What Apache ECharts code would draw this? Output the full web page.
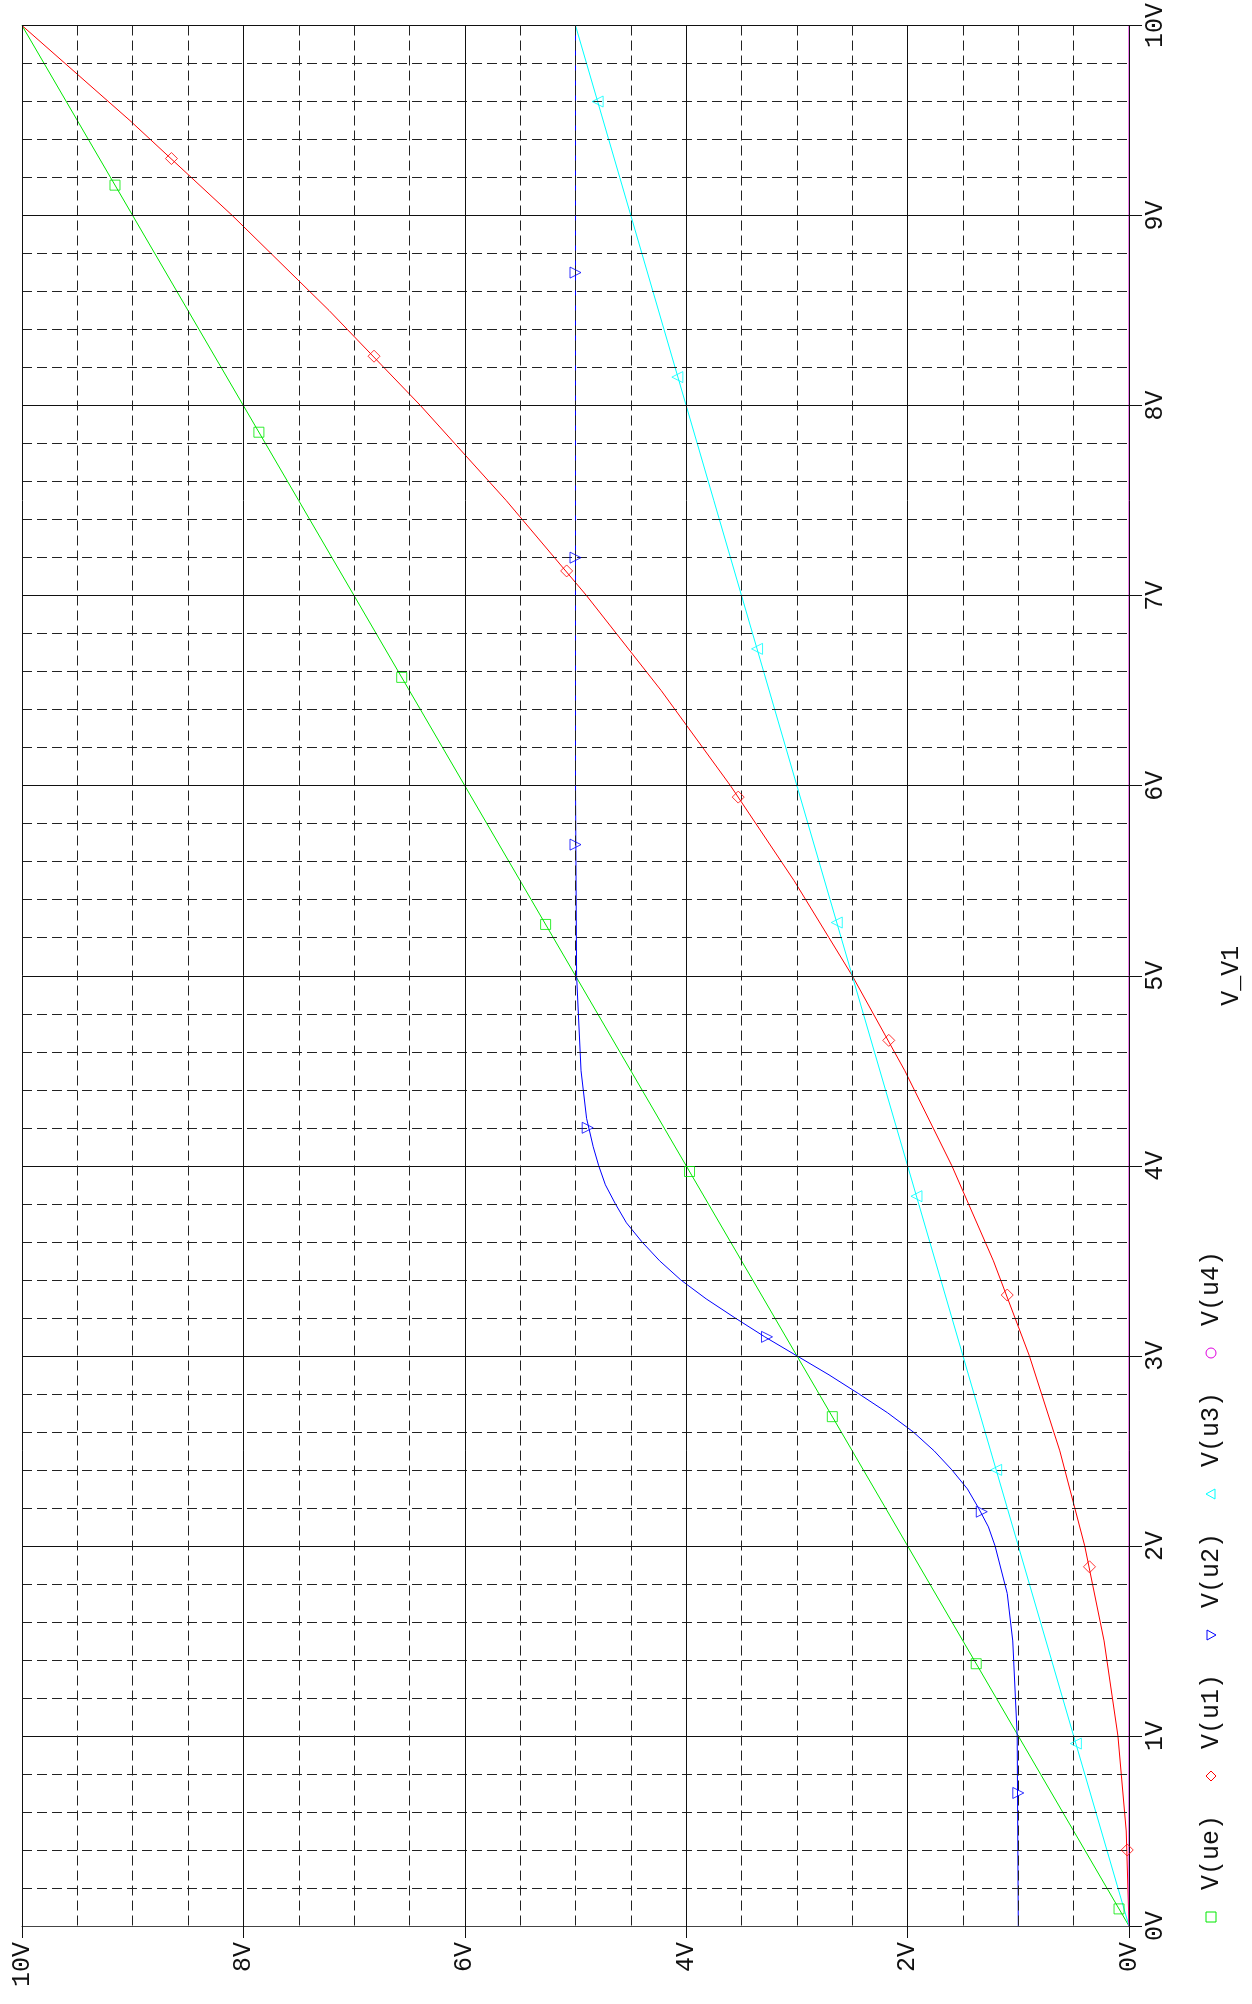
<!DOCTYPE html>
<html>
<head>
<meta charset="UTF-8" />
<title>V_V1 sweep</title>
<style>
  html, body { margin: 0; padding: 0; background: #fff; }
  #chart { width: 1252px; height: 2004px; }
</style>
</head>
<body>
<div id="chart"></div>
<script src="https://cdn.jsdelivr.net/npm/echarts@6/dist/echarts.min.js"></script>
<script>
// sweep voltage V_V1 (vertical axis) and the traces
const sweepLinear = [0, 10];
const ueValues = [0, 10];
const u3Values = [0, 5];
const u4Values = [0, 0];

const sweepU1 = [0, 0.5, 1, 1.5, 2, 2.5, 3, 3.5, 4, 4.5, 5, 5.5, 6, 6.5, 7, 7.5, 8, 8.5, 9, 9.5, 10];
const u1Values = [0, 0.025, 0.1, 0.225, 0.4, 0.625, 0.9, 1.225, 1.6, 2.025, 2.5, 3.025, 3.6, 4.225, 4.9, 5.625, 6.4, 7.225, 8.1, 9.025, 10];

const sweepU2 = [0, 1, 1.5, 1.75, 2, 2.1, 2.2, 2.3, 2.4, 2.5, 2.6, 2.7, 2.8, 2.9, 3, 3.1, 3.2, 3.3, 3.4, 3.5, 3.6, 3.7, 3.8, 3.9, 4, 4.1, 4.25, 4.5, 5, 6, 10];
const u2Values = [1.0, 1.01, 1.05, 1.1, 1.21, 1.27, 1.36, 1.46, 1.6, 1.76, 1.95, 2.18, 2.44, 2.71, 3.0, 3.29, 3.56, 3.82, 4.05, 4.24, 4.4, 4.54, 4.64, 4.73, 4.79, 4.84, 4.9, 4.95, 4.99, 5.0, 5.0];

// marker positions along each trace
const ueMarkSweep = [0.09, 1.38, 2.68, 3.97, 5.27, 6.57, 7.86, 9.16];
const ueMarkVal = [0.09, 1.38, 2.68, 3.97, 5.27, 6.57, 7.86, 9.16];
const u1MarkSweep = [0.4, 1.89, 3.32, 4.66, 5.94, 7.13, 8.26, 9.3];
const u1MarkVal = [0.016, 0.357, 1.1, 2.17, 3.53, 5.08, 6.82, 8.65];
const u2MarkSweep = [0.7, 2.18, 3.1, 4.2, 5.69, 7.2, 8.7];
const u2MarkVal = [1.0, 1.33, 3.27, 4.89, 5.0, 5.0, 5.0];
const u3MarkSweep = [0.96, 2.4, 3.84, 5.28, 6.72, 8.15, 9.6];
const u3MarkVal = [0.48, 1.2, 1.92, 2.64, 3.36, 4.08, 4.8];

const legendNames = ['V(ue)', 'V(u1)', 'V(u2)', 'V(u3)', 'V(u4)'];
const colors = ['#00e800', '#ff0000', '#0000ff', '#00ffff', '#e000e0'];

const FONT = '"Liberation Mono", "DejaVu Sans Mono", monospace';

function pairs(sweep, vals) {
  return sweep.map((s, i) => [vals[i], s]);
}

function lineSeries(name, data, color) {
  return {
    name, type: 'line', data, z: 2,
    symbol: 'none',
    lineStyle: { color, width: 1 },
    clip: false, silent: true
  };
}

function markSeries(data, color, symbol, rot, size) {
  return {
    type: 'scatter', data, z: 4,
    symbol, symbolRotate: rot, symbolSize: size,
    itemStyle: { color: 'rgba(0,0,0,0)', borderColor: color, borderWidth: 1 },
    silent: true
  };
}

// legend drawn as a rotated group, like the rest of the page
function legendChildren() {
  const out = [];
  const step = 141;
  legendNames.forEach((name, i) => {
    const b = i * step;
    const st = { fill: 'none', stroke: colors[i], lineWidth: 1 };
    let mark;
    if (i === 0) mark = { type: 'rect', shape: { x: b - 5, y: -5, width: 10, height: 10 }, style: st };
    else if (i === 1) mark = { type: 'polygon', shape: { points: [[b - 5, 0], [b, -5], [b + 5, 0], [b, 5]] }, style: st };
    else if (i === 2) mark = { type: 'polygon', shape: { points: [[b - 5, -4], [b + 5, -4], [b, 5]] }, style: st };
    else if (i === 3) mark = { type: 'polygon', shape: { points: [[b - 5, 4], [b + 5, 4], [b, -5]] }, style: st };
    else mark = { type: 'circle', shape: { cx: b, cy: 0, r: 5 }, style: st };
    out.push(mark);
    out.push({
      type: 'text', x: b + 27, y: 0,
      style: { text: name, font: '25px ' + FONT, fill: '#111', verticalAlign: 'middle', align: 'left' }
    });
  });
  return out;
}

const chart = echarts.init(document.getElementById('chart'));
chart.setOption({
  animation: false,
  backgroundColor: '#fff',
  grid: { left: 22, right: 105, top: 8, bottom: 78 },
  xAxis: {
    type: 'value', min: 0, max: 10, interval: 2, inverse: true, z: 3,
    axisLine: { show: true, lineStyle: { color: '#444', width: 1 } },
    axisTick: { show: true, length: 12, lineStyle: { color: '#111' } },
    axisLabel: { rotate: 90, margin: 16, formatter: '{value}V', fontFamily: FONT, fontSize: 25, color: '#111',
      showMinLabel: true, showMaxLabel: true },
    splitLine: { show: true, lineStyle: { color: '#111', width: 1 } },
    minorTick: { show: false, splitNumber: 4 },
    minorSplitLine: { show: true, lineStyle: { color: '#222', width: 1, type: [10, 5] } }
  },
  yAxis: {
    type: 'value', position: 'right', min: 0, max: 10, interval: 1, z: 3,
    name: 'V_V1', nameLocation: 'middle', nameRotate: 90, nameGap: 90,
    nameTextStyle: { fontFamily: FONT, fontSize: 25, color: '#111' },
    axisLine: { show: false },
    axisTick: { show: true, length: 13, lineStyle: { color: '#111' } },
    axisLabel: { rotate: 90, margin: 14, formatter: '{value}V', fontFamily: FONT, fontSize: 25, color: '#111',
      showMinLabel: true, showMaxLabel: true },
    splitLine: { show: true, lineStyle: { color: '#111', width: 1 } },
    minorTick: { show: false, splitNumber: 5 },
    minorSplitLine: { show: true, lineStyle: { color: '#222', width: 1, type: [10, 5] } }
  },
  series: [
    lineSeries('V(ue)', pairs(sweepLinear, ueValues), colors[0]),
    lineSeries('V(u1)', pairs(sweepU1, u1Values), colors[1]),
    lineSeries('V(u2)', pairs(sweepU2, u2Values), colors[2]),
    lineSeries('V(u3)', pairs(sweepLinear, u3Values), colors[3]),
    lineSeries('V(u4)', pairs(sweepLinear, u4Values), colors[4]),
    markSeries(pairs(ueMarkSweep, ueMarkVal), colors[0], 'rect', 0, 10),
    markSeries(pairs(u1MarkSweep, u1MarkVal), colors[1], 'diamond', 0, 12),
    markSeries(pairs(u2MarkSweep, u2MarkVal), colors[2], 'triangle', -90, 11),
    markSeries(pairs(u3MarkSweep, u3MarkVal), colors[3], 'triangle', 90, 11)
  ],
  graphic: [{
    type: 'group', x: 1211, y: 1917, rotation: Math.PI / 2,
    children: legendChildren()
  }]
});
</script>
</body>
</html>
